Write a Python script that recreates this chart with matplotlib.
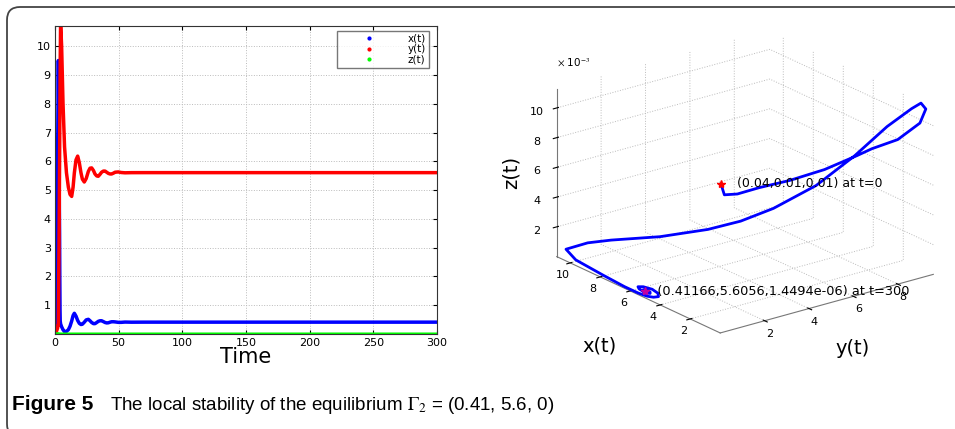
import matplotlib
matplotlib.use("Agg")
import matplotlib.pyplot as plt
from matplotlib.lines import Line2D
from matplotlib.patches import FancyBboxPatch
from matplotlib.transforms import IdentityTransform

# values (z in units of 1e-3)
t = [0, 0.15, 0.4, 0.8, 1.2, 1.6, 2.0, 2.2, 2.4, 2.5, 2.6, 2.68, 2.75, 2.85,
     3.0, 3.15, 3.3, 3.45, 3.6, 3.75, 3.95, 4.1, 4.4, 5.2, 6.3, 7.5, 9.0,
     10.5, 11.8, 13.1, 14.2, 15.2, 16.5, 17.8, 19.1, 20.4, 21.5, 23.0, 24.5,
     26.2, 27.5, 28.8, 30.2, 31.4, 32.8, 34.0, 35.4, 36.6, 38.0, 39.3, 40.6,
     41.9, 43.2, 44.5, 46.0, 47.2, 49.7, 52, 55, 60, 70, 100, 150, 200, 250, 300]
x_t = [0.04, 0.2, 0.8, 1.8, 3.2, 4.8, 6.3, 7.0, 8.2, 9.2, 9.5, 9.45, 9.3, 8.6,
       7.6, 6.35, 5.1, 4.3, 3.5, 2.15, 0.83, 0.45, 0.35, 0.25, 0.15, 0.08, 0.09,
       0.15, 0.27, 0.45, 0.64, 0.72, 0.62, 0.47, 0.37, 0.33, 0.34, 0.41, 0.49,
       0.51, 0.46, 0.40, 0.36, 0.36, 0.40, 0.44, 0.46, 0.46, 0.43, 0.40, 0.385,
       0.39, 0.41, 0.425, 0.425, 0.42, 0.405, 0.405, 0.415, 0.41, 0.412,
       0.41166, 0.41166, 0.41166, 0.41166, 0.41166]
y_t = [0.01, 0.02, 0.04, 0.07, 0.1, 0.15, 0.2, 0.25, 0.3, 0.3, 0.35, 0.6, 1.0, 1.6,
       2.3, 3.0, 4.0, 5.0, 6.0, 7.2, 8.5, 9.5, 10.8, 10.0, 8.0, 6.5, 5.6,
       5.1, 4.85, 4.78, 5.1, 5.6, 6.05, 6.18, 5.95, 5.6, 5.38, 5.28, 5.4,
       5.65, 5.76, 5.77, 5.68, 5.56, 5.49, 5.48, 5.55, 5.62, 5.66, 5.66, 5.62,
       5.58, 5.56, 5.56, 5.59, 5.62, 5.63, 5.61, 5.6, 5.605, 5.606,
       5.6056, 5.6056, 5.6056, 5.6056, 5.6056]
z_milli = [10.0, 9.2, 9.0, 9.0, 8.9, 8.95, 9.25, 9.4, 9.5, 10.2, 11.0, 11.3, 10.8, 9.6,
           7.7, 5.9, 4.4, 3.4, 2.7, 2.2, 1.9, 1.4, 0.4, 0.1, 0.04, 0.02, 0.01,
           0.008, 0.007, 0.006, 0.005, 0.005, 0.004, 0.004, 0.004, 0.003, 0.003, 0.003, 0.003,
           0.003, 0.003, 0.002, 0.002, 0.002, 0.002, 0.002, 0.002, 0.002, 0.002, 0.002, 0.002,
           0.002, 0.002, 0.002, 0.002, 0.002, 0.002, 0.002, 0.002, 0.0015, 0.0015,
           0.0014, 0.0014, 0.0014, 0.0014, 0.0014]
z_t = [v / 1000 for v in z_milli]

plt.rcParams['font.family'] = ['DejaVu Sans']
plt.rcParams['mathtext.fontset'] = 'stix'
plt.rcParams['grid.linestyle'] = ':'
plt.rcParams['grid.color'] = '#bbbbbb'
plt.rcParams['grid.linewidth'] = 0.7

fig = plt.figure(figsize=(9.55, 4.29), dpi=100)

# outer rounded frame
fig.add_artist(FancyBboxPatch((7, -8), 1000, 430, boxstyle="round,pad=0,rounding_size=13",
                              transform=IdentityTransform(), facecolor='none',
                              edgecolor='#444444', linewidth=1.3))

#####################################################
# time series
ax = fig.add_axes([55 / 955, 1 - 334 / 429, 382 / 955, 308 / 429])
ax.plot(t, x_t, color=(0, 0, 1), lw=2.5)
ax.plot(t, y_t, color=(1, 0, 0), lw=2.5)
ax.plot(t, z_t, color=(0, 1, 0), lw=2.2)
ax.set_xlim(0, 300)
ax.set_ylim(0, 10.7)
ax.set_xticks(range(0, 301, 50))
ax.set_yticks(range(1, 11))
ax.grid(True)
ax.tick_params(direction='in', top=True, right=True, labelsize=8, length=3, pad=3)
for s in ax.spines.values():
    s.set_color('#333333')
    s.set_linewidth(0.8)
ax.set_xlabel('Time', fontsize=15, labelpad=-1)

handles = [Line2D([], [], ls='none', marker='.', ms=4, color=c)
           for c in [(0, 0, 1), (1, 0, 0), (0, 1, 0)]]
leg = ax.legend(handles, ['x(t)', 'y(t)', 'z(t)'], loc='upper right',
                bbox_to_anchor=(0.98, 0.985), fontsize=7.5, frameon=True,
                fancybox=False, handlelength=5.5, handletextpad=1.0,
                borderpad=0.3, labelspacing=0.05, borderaxespad=0)
leg.get_frame().set_edgecolor('#555555')
leg.get_frame().set_linewidth(1.0)

#####################################################
# phase space (axes labelled as in the original: first axis holds y)
ax3 = fig.add_axes([467 / 955, 38 / 429, 545 / 955, 408 / 429], projection='3d')
ax3.set_proj_type('ortho')
ax3.view_init(elev=21, azim=-37.5)
ax3.set_box_aspect((1, 1, 0.67))
ax3.patch.set_alpha(0)
for a in (ax3.xaxis, ax3.yaxis, ax3.zaxis):
    a.pane.fill = False
    a.pane.set_edgecolor((1, 1, 1, 0))
    a.line.set_color('#777777')
    a.line.set_linewidth(0.8)
ax3.zaxis.set_ticks_position('lower')
ax3.plot(y_t, x_t, z_milli, color=(0, 0, 1), lw=2)
ax3.plot([y_t[0]], [x_t[0]], [z_milli[0]], ls='none', marker='*', color='red', ms=6)
ax3.plot([y_t[-1]], [x_t[-1]], [z_milli[-1]], ls='none', marker='*', color='#c000a0', ms=6)
ax3.text(y_t[0], x_t[0], z_milli[0], '    (0.04,0.01,0.01) at t=0',
         fontsize=9, va='center')
ax3.text(y_t[-1], x_t[-1], z_milli[-1], '   (0.41166,5.6056,1.4494e-06) at t=300',
         fontsize=9.3, va='center')
ax3.set_xlim(10.9, 0)
ax3.set_ylim(0, 9.6)
ax3.set_zlim(0, 11.3)
ax3.set_xticks([2, 4, 6, 8, 10])
ax3.set_yticks([2, 4, 6, 8])
ax3.set_zticks([2, 4, 6, 8, 10])
ax3.tick_params(labelsize=8, pad=0)
ax3.tick_params(axis='x', pad=-3)
ax3.tick_params(axis='y', pad=-3)

fig.text(557 / 955, 1 - 63 / 429, r'$\times$ 10$^{-3}$', fontsize=7.5, va='center')
fig.text(511 / 955, 1 - 172 / 429, 'z(t)', fontsize=14, rotation=90, ha='center', va='center')
fig.text(600 / 955, 1 - 346 / 429, 'x(t)', fontsize=14, ha='center', va='center')
fig.text(853 / 955, 1 - 349 / 429, 'y(t)', fontsize=14, ha='center', va='center')

#####################################################
# caption
fig.text(12 / 955, 1 - 405 / 429, 'Figure 5', fontsize=15, fontweight='bold',
         family='Liberation Sans', va='center')
fig.text(110 / 955, 1 - 405 / 429,
         r'The local stability of the equilibrium $\Gamma_2$ = (0.41, 5.6, 0)',
         fontsize=13.5, family='Liberation Sans', va='center')

plt.savefig('out.png', dpi=100)
